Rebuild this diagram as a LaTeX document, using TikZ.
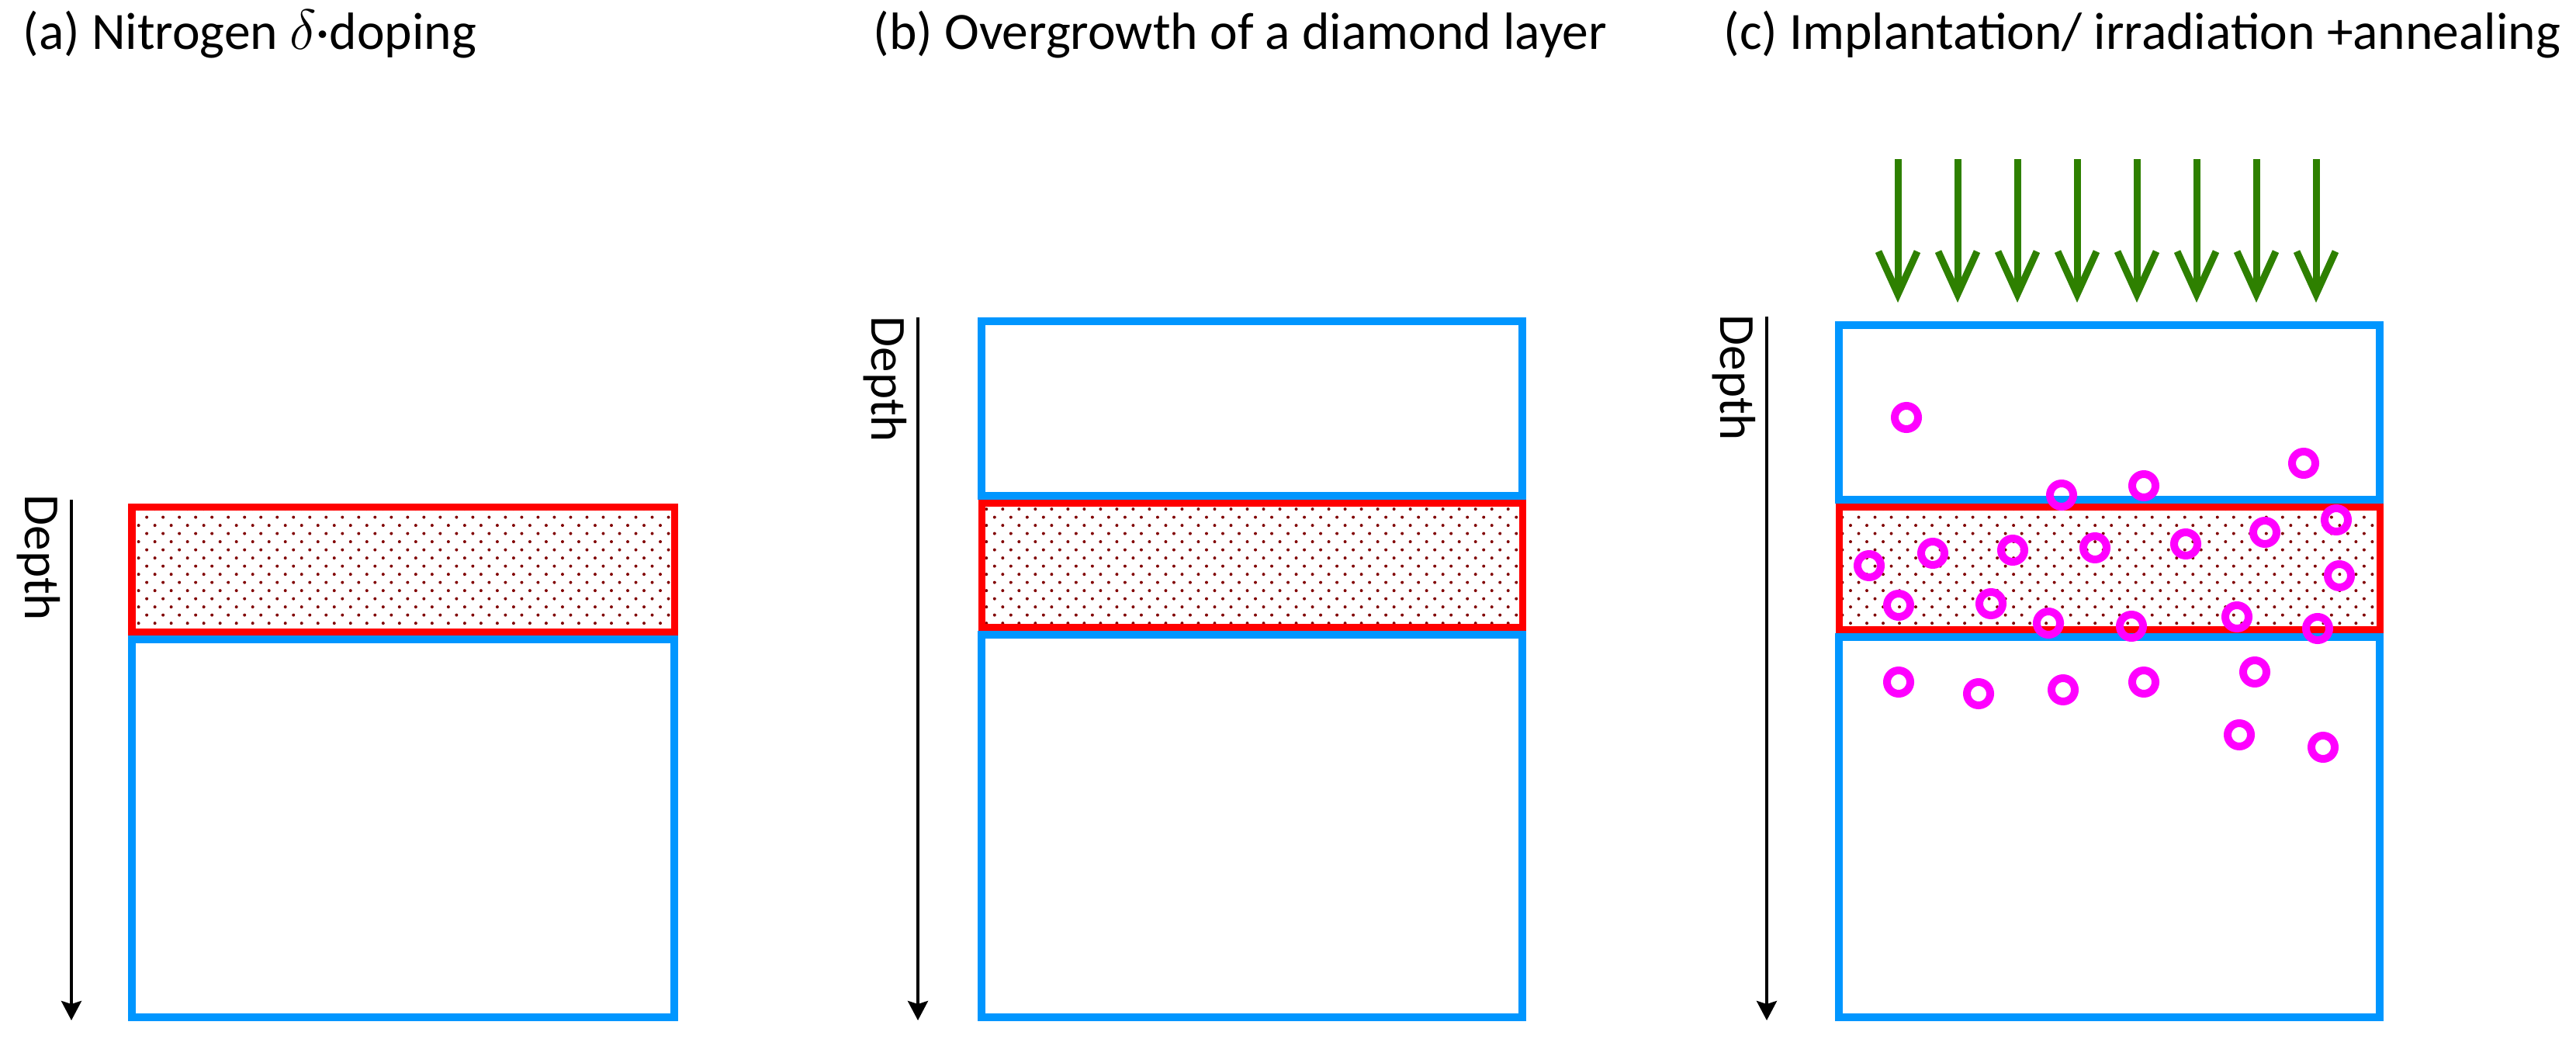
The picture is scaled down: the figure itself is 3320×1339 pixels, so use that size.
\documentclass[tikz,border=0pt]{standalone}
\usepackage{fontspec}
\setmainfont{Carlito}
\usetikzlibrary{arrows.meta, patterns.meta}
\definecolor{layerblue}{RGB}{0,150,255}
\definecolor{dotred}{RGB}{128,0,0}
\definecolor{beamgreen}{RGB}{46,128,0}
\definecolor{nvpink}{RGB}{255,0,255}
\tikzset{
bluebox/.style={draw=layerblue, line width=1mm}, % undoped diamond
redbox/.style={draw=red, line width=0.9mm, pattern={Dots[radius=0.2mm, distance=1.485mm, angle=45]}, pattern color=dotred}, % nitrogen layer
depth/.style={-{Stealth[length=0.25cm, width=0.26cm, inset=0.04cm]}, line width=0.4mm}, % depth axis
depthlabel/.style={rotate=-90, anchor=base west, inner sep=0, font=\fontsize{18.5}{22}\selectfont},
title/.style={anchor=base west, inner sep=0, font=\fontsize{19.2}{22}\selectfont},
beam/.style={draw=beamgreen, line width=0.9mm, -{Straight Barb[length=0.55cm, width=0.5cm]}}, % implantation
ring/.style={draw=nvpink, line width=0.1cm}, % NV centre
}
\begin{document}
\begin{tikzpicture}[x=0.01cm, y=-0.01cm]
\useasboundingbox (0,0) rectangle (3320,1339);
% titles
\node[title] (ta) at (29,63) {(a) Nitrogen $\delta$·doping};
\node[title] (tb) at (1125,63) {(b) Overgrowth of a diamond layer};
\node[title] (tc) at (2221,63) {(c) Implantation/ irradiation +annealing};

% (a)
\draw[redbox] (170,653.5) rectangle (869,814.5);
\draw[bluebox] (170,824) rectangle (869,1311);
\coordinate (da0) at (92,644);
\coordinate (da1) at (92,1315);
\draw[depth] (da0) -- (da1);
\node[depthlabel] (la) at (32,637) {Depth};

% (b)
\draw[bluebox] (1265,414) rectangle (1962,639);
\draw[redbox] (1265,648.5) rectangle (1962,808.5);
\draw[bluebox] (1265,818) rectangle (1962,1311);
\coordinate (db0) at (1183,409);
\coordinate (db1) at (1183,1315);
\draw[depth] (db0) -- (db1);
\node[depthlabel] (lb) at (1123,407) {Depth};

% (c)
\draw[bluebox] (2370,419) rectangle (3067,644);
\draw[redbox] (2370,653.5) rectangle (3067,811.5);
\draw[bluebox] (2370,821) rectangle (3067,1311);
\coordinate (dc0) at (2277,408);
\coordinate (dc1) at (2277,1315);
\draw[depth] (dc0) -- (dc1);
\node[depthlabel] (lc) at (2217,405) {Depth};

\foreach \i in {0,...,7}{
  \coordinate (bs\i) at (2446+77*\i,205);
  \coordinate (be\i) at (2446+77*\i,390);
  \draw[beam] (bs\i) -- (be\i);
}

\foreach \p in {(2457,538),(2969,597),(2657,638),(2763,626),(3011,670),(2919,686),(2817,701),(2700,706),(2594,709),(2491,713),(2409,729),(3015,742),(2447,780),(2566,778),(2640,803),(2747,807),(2883,795),(2987,810),(2447,879),(2550,894),(2659,889),(2763,879),(2906,866),(2886,947),(2994,963)}
  \draw[ring] \p circle[radius=0.15cm];
\end{tikzpicture}
\end{document}
